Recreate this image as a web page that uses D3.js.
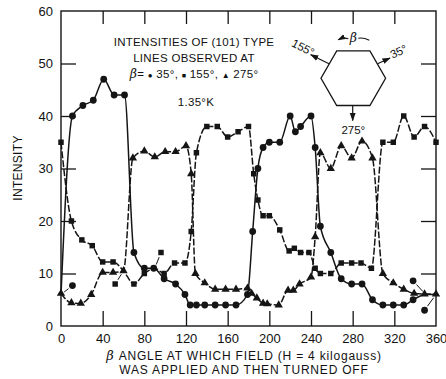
<!DOCTYPE html>
<html>
<head>
<style>
  body {
    background-color: white;
    margin: 0px;
  }
  svg text {
    font-family: "Liberation Sans", Arial, sans-serif;
    fill: #111;
  }
</style>
<script src="https://cdn.jsdelivr.net/npm/d3@7"></script>
</head>
<body>
<svg></svg>
<script>
// beta angle (deg) vs intensity, one list per observed line
const circle35 = [[0,6],[11,40],[21,42],[31,43],[41,47],[51,44],[61,44],[70,14],[80,11],[89,11],[99,9],[110,8],
  [119,6],[124,4],[130,4],[138,4],[148,4],[158,4],[168,4],[179,6],[184,18],[189,30],[194,34],[200,35],[210,35],
  [220,40],[225,37],[230,38],[240,40],[244,34],[249,19],[259,14],[269,9],[279,8],[289,8],[299,5],[309,4],[319,4],
  [329,4],[338,5],[350,6],[360,6]];
const square155 = [[0,35],[10,20],[20,16.4],[30,15.3],[40,12.2],[50,12.2],[60,10.5],[70,8],[80,10],[90,11],[99,10],
  [109,12],[119,12],[125,18],[130,33],[140,38],[150,38],[160,36],[170,37],[180,38],[185,29],[189,24],[194,21],[200,21],
  [210,18.3],[219,14.3],[224,14.8],[230,14],[238,14],[244,11],[249,10],[259,10],[269,12],[279,12],[288,12],[298,11],
  [309,35],[319,35],[329,40],[339,36],[349,38],[360,35]];
const triangle275 = [[0,6.2],[10,4.4],[19,4.3],[29,6],[40,10.2],[50,10.2],[60,10.5],[69,32],[80,33.3],[90,32.2],
  [100,33.2],[110,33.2],[120,34.3],[125,29],[129,10],[138,8.2],[148,7],[158,7],[168,7],[179,7.2],[183,6.2],[188,5.3],
  [194,4.3],[198,4.2],[209,4],[218,6.8],[223,6.8],[229,8],[240,9.3],[244,17],[249,33],[259,30],[269,34.3],[279,32],
  [289,35.2],[299,32],[309,10],[319,8.2],[329,7],[339,6.2],[349,6.1],[360,6.1]];

// points hidden under others, drawn beside with a leader: [series, x, y, shownX, shownY]
const displaced = [["c",0,6,11,7.7],["s",60,10.5,52,8],["s",90,11,96,14],["c",350,6,338,8.6],["c",360,6,349,3]];

const xTicks = d3.range(0, 361, 40);
const yTicks = d3.range(0, 61, 10);

const width = 446, height = 379;
const svg = d3.select("svg").attr("width", width).attr("height", height);

const x = d3.scaleLinear().domain([0, 360]).range([61, 436]);
const y = d3.scaleLinear().domain([0, 60]).range([326, 11]);

const ink = "#151515";

// frame + inward ticks
svg.append("rect")
    .attr("x", x(0)).attr("y", y(60))
    .attr("width", x(360) - x(0)).attr("height", y(0) - y(60))
    .attr("fill", "none").attr("stroke", ink).attr("stroke-width", 1.4);

svg.append("g").attr("transform", `translate(0,${y(0)})`)
    .call(d3.axisBottom(x).tickValues(xTicks).tickSizeInner(-15).tickSizeOuter(0).tickPadding(8))
    .call(g => g.select(".domain").remove())
    .call(g => g.selectAll(".tick text").style("font-size", "13px"));
svg.append("g").attr("transform", `translate(0,${y(60)})`)
    .call(d3.axisTop(x).tickValues(xTicks.slice(1, -1)).tickSizeInner(-13).tickSizeOuter(0).tickFormat(""))
    .call(g => g.select(".domain").remove());
svg.append("g").attr("transform", `translate(${x(0)},0)`)
    .call(d3.axisLeft(y).tickValues(yTicks).tickSizeInner(-15).tickSizeOuter(0).tickPadding(8))
    .call(g => g.select(".domain").remove())
    .call(g => g.selectAll(".tick text").style("font-size", "13px"));
svg.append("g").attr("transform", `translate(${x(360)},0)`)
    .call(d3.axisRight(y).tickValues(yTicks.slice(1, -1)).tickSizeInner(-15).tickSizeOuter(0).tickFormat(""))
    .call(g => g.select(".domain").remove());

svg.selectAll(".tick line").attr("stroke", ink).attr("stroke-width", 1.3);

// drop the ticks that sit on the frame corners
svg.selectAll(".tick").filter(d => d === 0 || d === 360 || d === 60).select("line").remove();

// curves
const line = d3.line()
    .curve(d3.curveMonotoneX)
    .x(d => x(d[0]))
    .y(d => y(d[1]));

const series = [
  {key: "c", data: circle35, dash: null, symbol: d3.symbolCircle, size: 36},
  {key: "s", data: square155, dash: "7,2", symbol: d3.symbolSquare, size: 30},
  {key: "t", data: triangle275, dash: "7,2", symbol: d3.symbolTriangle, size: 30}
];

series.forEach(function(s) {
  svg.append("path")
      .attr("d", line(s.data))
      .attr("fill", "none")
      .attr("stroke", ink)
      .attr("stroke-width", 1.5)
      .attr("stroke-dasharray", s.dash);

  const hidden = displaced.filter(d => d[0] === s.key).map(d => d[1]);
  svg.append("g").selectAll("path")
      .data(s.data.filter(d => hidden.indexOf(d[0]) < 0))
      .join("path")
      .attr("transform", d => `translate(${x(d[0])},${y(d[1])})`)
      .attr("d", d3.symbol(s.symbol, s.size))
      .attr("fill", ink);

  displaced.filter(d => d[0] === s.key).forEach(function(d) {
    const px = x(d[3]), py = y(d[4]), tx = x(d[1]), ty = y(d[2]);
    const len = Math.hypot(tx - px, ty - py), ux = (tx - px) / len, uy = (ty - py) / len;
    svg.append("line")
        .attr("x1", px + ux * 5).attr("y1", py + uy * 5)
        .attr("x2", tx - ux * 4).attr("y2", ty - uy * 4)
        .attr("stroke", ink).attr("stroke-width", 1);
    svg.append("path")
        .attr("transform", `translate(${px},${py})`)
        .attr("d", d3.symbol(s.symbol, s.size))
        .attr("fill", ink);
  });
});

// legend text
const legend = svg.append("g").style("font-size", "11.5px").style("letter-spacing", "0.3px").attr("text-anchor", "middle");
legend.append("text").attr("x", 194).attr("y", 45.5).text("INTENSITIES OF (101) TYPE");
legend.append("text").attr("x", 194).attr("y", 62).text("LINES OBSERVED AT");
const l3 = legend.append("text").attr("x", 194).attr("y", 78);
l3.append("tspan").style("font-family", "DejaVu Serif").style("font-style", "italic").style("font-size", "12.5px").text("β");
l3.append("tspan").text("= ");
l3.append("tspan").style("font-size", "8px").text("●");
l3.append("tspan").text(" 35°, ");
l3.append("tspan").style("font-size", "7px").text("■");
l3.append("tspan").text(" 155°, ");
l3.append("tspan").style("font-size", "8px").text("▲");
l3.append("tspan").text(" 275°");
legend.append("text").attr("x", 196).attr("y", 106).text("1.35°K");

// hexagon inset
const cx = 353.3, cy = 78.2;
const hex = svg.append("g").attr("transform", `translate(${cx},${cy})`);
svg.append("defs").append("marker")
    .attr("id", "head").attr("viewBox", "0 0 10 10").attr("refX", 9).attr("refY", 5)
    .attr("markerWidth", 7).attr("markerHeight", 7).attr("orient", "auto")
  .append("path").attr("d", "M0,1.5L10,5L0,8.5Z").attr("fill", ink);

hex.append("path")
    .attr("d", "M-16.6,-27.3L16.6,-27.3L32.3,0L16.6,27.3L-16.6,27.3L-32.3,0Z")
    .attr("fill", "none").attr("stroke", ink).attr("stroke-width", 1.3);
[[-24.3,-14.5,-42.6,-23.5],[24.3,-14.5,36.7,-20.2],[-0.6,27.3,-0.6,42.4]].forEach(function(a) {
  hex.append("line")
      .attr("x1", a[0]).attr("y1", a[1]).attr("x2", a[2]).attr("y2", a[3])
      .attr("stroke", ink).attr("stroke-width", 1.2).attr("marker-end", "url(#head)");
});
hex.append("path").attr("d", "M-5,-39.5Q-10,-41 -15,-38.5")
    .attr("fill", "none").attr("stroke", ink).attr("stroke-width", 1.1).attr("marker-end", "url(#head)");
hex.append("path").attr("d", "M5,-40Q10,-41 16,-38")
    .attr("fill", "none").attr("stroke", ink).attr("stroke-width", 1.1);
hex.append("text").attr("x", 0).attr("y", -36).attr("text-anchor", "middle")
    .style("font-family", "DejaVu Serif").style("font-style", "italic").style("font-size", "12.5px").text("β");
hex.append("text").attr("transform", "translate(-52,-27) rotate(27)").attr("text-anchor", "middle")
    .style("font-size", "11.5px").text("155°");
hex.append("text").attr("transform", "translate(47,-23) rotate(-25)").attr("text-anchor", "middle")
    .style("font-size", "11.5px").text("35°");
hex.append("text").attr("x", 0).attr("y", 56).attr("text-anchor", "middle")
    .style("font-size", "11.5px").text("275°");

// axis titles
svg.append("text")
    .attr("transform", "translate(22,168) rotate(-90)")
    .attr("text-anchor", "middle").style("font-size", "12px").style("letter-spacing", "0.3px")
    .text("INTENSITY");
const xt = svg.append("text").attr("text-anchor", "middle").style("font-size", "12px").style("letter-spacing", "0.8px");
xt.append("tspan").attr("x", 244).attr("y", 360)
    .append("tspan").style("font-family", "DejaVu Serif").style("font-style", "italic").style("font-size", "13px").text("β");
xt.select("tspan").append("tspan").text(" ANGLE AT WHICH FIELD (H = 4 kilogauss)");
xt.append("tspan").attr("x", 244).attr("y", 374).text("WAS APPLIED AND THEN TURNED OFF");
</script>
</body>
</html>
